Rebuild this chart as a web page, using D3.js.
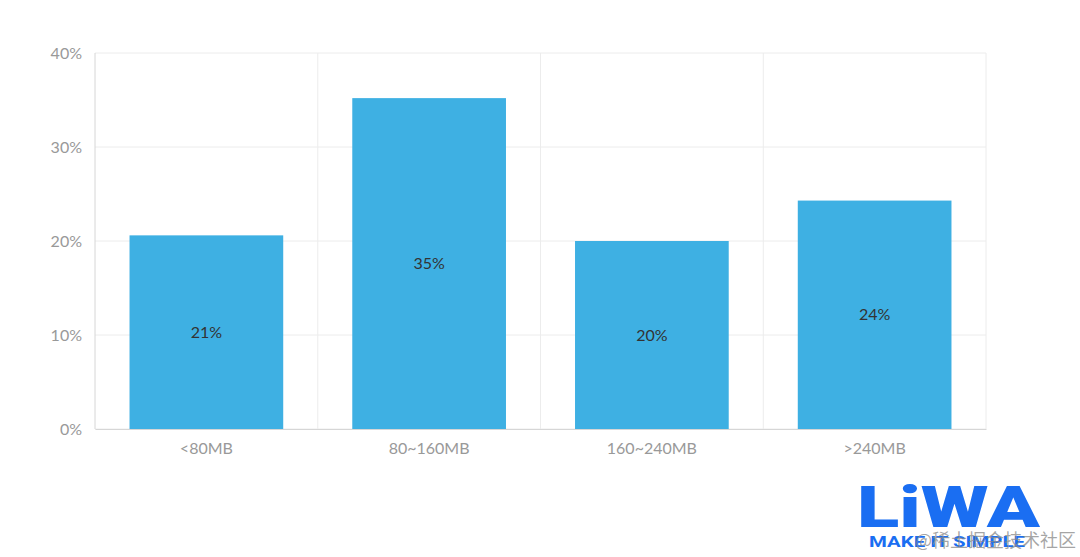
<!DOCTYPE html>
<head>
<meta charset='utf-8'>
<style>
  body { margin: 0; background: #fff; font-family: 'Noto Sans', Arial, sans-serif; }
  .tick text { fill: #999; font-size: 16px; font-family: Lato, 'Noto Sans', sans-serif; }
</style>
</head>
<body>
<div id='vis'></div>
<script src='https://d3js.org/d3.v7.min.js'></script>
<script>
  const categories = ['<80MB', '80~160MB', '160~240MB', '>240MB']
  const shares = [20.6, 35.2, 20.0, 24.3]
  const labels = ['21%', '35%', '20%', '24%']
  const yTicks = [0, 10, 20, 30, 40]

  const W = 1080, H = 557
  const margin = {top: 53, right: 94, bottom: 128, left: 95}
  const width = W - margin.left - margin.right
  const height = H - margin.top - margin.bottom

  const svg = d3.select('#vis').append('svg')
    .attr('width', W).attr('height', H)

  const g = svg.append('g')
    .attr('transform', `translate(${margin.left},${margin.top})`)

  const x = d3.scaleBand().domain(categories).range([0, width]).paddingInner(0.31).paddingOuter(0.155)
  const y = d3.scaleLinear().domain([0, 40]).range([height, 0])

  // 网格
  g.selectAll('.hgrid').data(yTicks).enter().append('line')
    .attr('x1', 0).attr('x2', width)
    .attr('y1', d => y(d)).attr('y2', d => y(d))
    .attr('stroke', '#ececec')

  const step = width / categories.length
  g.selectAll('.vgrid').data(d3.range(categories.length + 1)).enter().append('line')
    .attr('x1', d => d * step).attr('x2', d => d * step)
    .attr('y1', 0).attr('y2', height)
    .attr('stroke', (d, i) => i === 0 ? '#d6d6d6' : '#ececec')

  // 柱子
  g.selectAll('.bar').data(shares).enter().append('rect')
    .attr('x', (d, i) => x(categories[i]))
    .attr('y', d => y(d))
    .attr('width', x.bandwidth())
    .attr('height', d => height - y(d))
    .attr('fill', '#3eb0e3')

  g.selectAll('.lbl').data(shares).enter().append('text')
    .attr('x', (d, i) => x(categories[i]) + x.bandwidth() / 2)
    .attr('y', d => (y(d) + height) / 2)
    .attr('dy', '0.35em')
    .attr('text-anchor', 'middle')
    .attr('fill', '#333')
    .style('font-family', "Lato, 'Noto Sans', sans-serif")
    .style('font-size', '16px')
    .text((d, i) => labels[i])

  // 轴
  const yAxis = g.append('g')
    .call(d3.axisLeft(y).tickValues(yTicks).tickFormat(d => d + '%').tickSize(0).tickPadding(13))
  yAxis.select('.domain').remove()

  const xAxis = g.append('g')
    .attr('transform', `translate(0,${height})`)
    .call(d3.axisBottom(x).tickSize(0).tickPadding(14))
  xAxis.select('.domain').attr('stroke', '#d6d6d6')
  xAxis.selectAll('.tick text').attr('dy', '0.71em')

  // logo
  const logo = svg.append('g')
  logo.append('text')
    .attr('x', 857).attr('y', 527)
    .attr('fill', '#1a6ef2')
    .attr('textLength', 183)
    .attr('lengthAdjust', 'spacingAndGlyphs')
    .style('font-family', 'Roboto, sans-serif')
    .style('font-weight', 900)
    .style('font-size', '58px')
    .text('LiWA')
  logo.append('text')
    .attr('x', 869).attr('y', 547)
    .attr('fill', '#1a6ef2')
    .attr('textLength', 156)
    .attr('lengthAdjust', 'spacingAndGlyphs')
    .style('font-family', 'Roboto, sans-serif')
    .style('font-weight', 700)
    .style('font-size', '15px')
    .text('MAKE IT SIMPLE')
  logo.append('text')
    .attr('x', 915).attr('y', 547)
    .attr('fill', '#888')
    .attr('fill-opacity', 0.75)
    .style('font-family', "'Noto Sans CJK SC', sans-serif")
    .style('font-size', '18px')
    .text('@稀土掘金技术社区')
</script>
</body>
